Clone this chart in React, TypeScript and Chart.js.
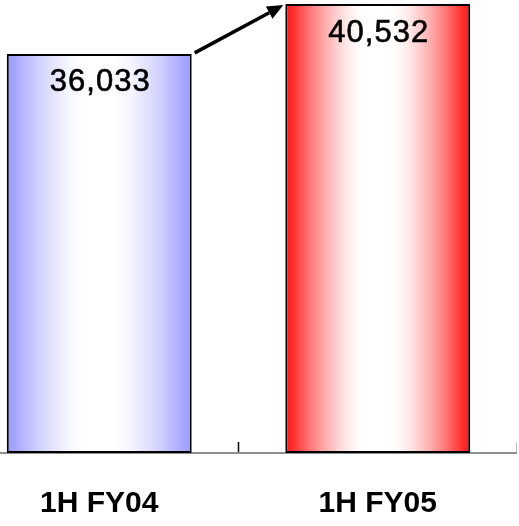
import React, { useEffect, useRef } from "react";
import { Chart, registerables } from "chart.js";

Chart.register(...registerables);

const categories: string[] = ["1H FY04", "1H FY05"];
const sales: number[] = [36033, 40532];
const edgeRgb: number[][] = [
  [154, 154, 255],
  [255, 20, 20],
];
const valueLabels: string[] = ["36,033", "40,532"];

const BAR_PCT = 0.664;
const FONT = "'Liberation Sans', Arial, sans-serif";

// Edge -> white -> edge shading across one bar
function barGradient(ctx: any) {
  const chart = ctx.chart;
  const i = ctx.dataIndex;
  const [r, g0, b] = edgeRgb[(i ?? 0) % edgeRgb.length];
  const edge = `rgb(${r},${g0},${b})`;
  const xs = chart.scales && chart.scales.x;
  if (!xs || !chart.chartArea || i === undefined) return edge;
  const cx = xs.getPixelForValue(i);
  const half = (xs.width / categories.length) * BAR_PCT / 2;
  const g = chart.ctx.createLinearGradient(cx - half, 0, cx + half, 0);
  const steps = 24;
  for (let k = 0; k <= steps; k++) {
    const t = k / steps;
    const d = Math.abs(t - 0.5) / 0.5;
    const u = Math.min(1, Math.max(0, (d - 0.16) / 0.82));
    const s = Math.pow(u, 1.5); // amount of edge colour
    const mix = (c: number) => Math.round(255 + (c - 255) * s);
    g.addColorStop(t, `rgb(${mix(r)},${mix(g0)},${mix(b)})`);
  }
  return g;
}

// Value text inside each bar plus the growth arrow between bar tops
const overlayPlugin = {
  id: "overlay",
  afterDatasetsDraw(chart: any) {
    const meta = chart.getDatasetMeta(0);
    const c = chart.ctx;
    c.save();
    c.fillStyle = "#000";
    c.strokeStyle = "#000";
    c.lineWidth = 0.6;
    c.font = `31px ${FONT}`;
    try {
      (c as any).letterSpacing = "1px";
    } catch (e) {
      /* older canvas */
    }
    c.textAlign = "center";
    c.textBaseline = "middle";
    meta.data.forEach((bar: any, i: number) => {
      c.fillText(valueLabels[i], bar.x + 1, bar.y + 29);
      c.strokeText(valueLabels[i], bar.x + 1, bar.y + 29);
    });
    try {
      (c as any).letterSpacing = "0px";
    } catch (e) {
      /* older canvas */
    }

    const a = meta.data[0];
    const b = meta.data[1];
    if (a && b) {
      const x1 = a.x + a.width / 2 + 3;
      const y1 = a.y - 1;
      const x2 = b.x - b.width / 2 - 2;
      const y2 = b.y + 1;
      const ang = Math.atan2(y2 - y1, x2 - x1);
      const headLen = 16;
      const headW = 7;
      const bx = x2 - headLen * Math.cos(ang);
      const by = y2 - headLen * Math.sin(ang);
      c.strokeStyle = "#000";
      c.lineWidth = 3.5;
      c.beginPath();
      c.moveTo(x1, y1);
      c.lineTo(bx, by);
      c.stroke();
      c.beginPath();
      c.moveTo(x2, y2);
      c.lineTo(bx + headW * Math.sin(ang), by - headW * Math.cos(ang));
      c.lineTo(bx - headW * Math.sin(ang), by + headW * Math.cos(ang));
      c.closePath();
      c.fill();
    }
    c.restore();
  },
};

export default function App() {
  const canvasRef = useRef<HTMLCanvasElement | null>(null);

  useEffect(() => {
    document.body.style.margin = "0";
    document.body.style.overflow = "hidden";
    const canvas = canvasRef.current;
    if (!canvas) return;
    const chart = new Chart(canvas, {
      type: "bar",
      data: {
        labels: categories,
        datasets: [
          {
            data: sales,
            backgroundColor: barGradient,
            borderColor: "#000",
            borderWidth: 2,
            borderSkipped: false,
            barPercentage: BAR_PCT,
            categoryPercentage: 1,
          },
        ],
      },
      options: {
        animation: false,
        responsive: false,
        maintainAspectRatio: false,
        layout: { padding: 0 },
        plugins: {
          legend: { display: false },
          tooltip: { enabled: false },
          title: { display: false },
        },
        scales: {
          x: {
            offset: true,
            grid: {
              offset: true,
              drawOnChartArea: false,
              drawTicks: true,
              tickLength: -11,
              tickColor: "#000",
              tickWidth: 1.5,
            },
            border: { display: true, color: "#909090", width: 2 },
            ticks: {
              color: "#000",
              padding: 44,
              font: { family: FONT, size: 30, weight: "bold" },
              maxRotation: 0,
            },
            afterFit(scale: any) {
              scale.height = 73;
            },
          },
          y: {
            display: false,
            min: 0,
            max: 40900,
          },
        },
      },
      plugins: [overlayPlugin],
    });
    return () => chart.destroy();
  }, []);

  return (
    <div style={{ position: "absolute", left: -40, top: 0, width: 557, height: 526 }}>
      <canvas ref={canvasRef} width={557} height={526} style={{ display: "block" }} />
    </div>
  );
}
